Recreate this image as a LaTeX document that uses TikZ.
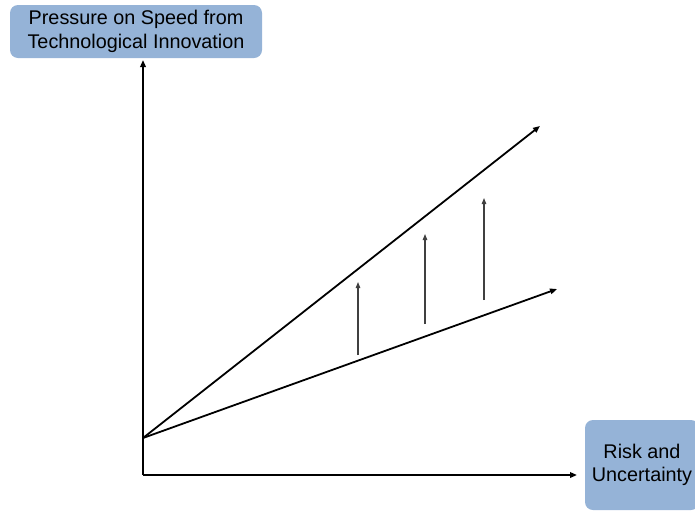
\documentclass[tikz,border=0pt]{standalone}
\usepackage{fontspec}
\setmainfont{Liberation Sans}
\usepackage{tikz}
\usetikzlibrary{arrows.meta,positioning}
\definecolor{lblblue}{HTML}{95B3D7}

\begin{document}
\begin{tikzpicture}[x=1pt, y=-1pt,
    axislbl/.style={fill=lblblue, rounded corners=8pt, align=center, inner sep=2pt,
                  font=\fontsize{19.8}{23.5}\selectfont},
    axis/.style={-{Triangle[length=7pt,width=5.5pt]}, line width=1.8pt},
    trend/.style={-{Triangle[length=7pt,width=5.5pt]}, line width=1.8pt},
    rise/.style={-{Triangle[length=6pt,width=4.5pt]}, line width=1.1pt, draw=black!75}]
  \useasboundingbox (0,0) rectangle (695,512);
  \node[axislbl, minimum width=252pt, minimum height=53pt] (ylbl) at (136,31.5)
    {Pressure on Speed from\\Technological Innovation};
  \node[axislbl, minimum width=114pt, minimum height=90pt] (xlbl) at (642,465)
    {Risk and\\Uncertainty};
  \coordinate (corner) at (143,475);
  \coordinate (ytip) at (143,60);
  \coordinate (xtip) at (577,475);
  \coordinate (start) at (143,438);
  \coordinate (high) at (540,126);
  \coordinate (low) at (557,289);
  \draw[axis] (corner) -- (ytip);
  \draw[axis] (corner) -- (xtip);
  \draw[trend] (start) -- (high);
  \draw[trend] (start) -- (low);
  \foreach \x/\ya/\yb [count=\i] in {358/355/282, 425/324/234, 484/300/198} {
    \coordinate (s\i a) at (\x,\ya);
    \coordinate (s\i b) at (\x,\yb);
    \draw[rise] (s\i a) -- (s\i b);
  }
\end{tikzpicture}
\end{document}
